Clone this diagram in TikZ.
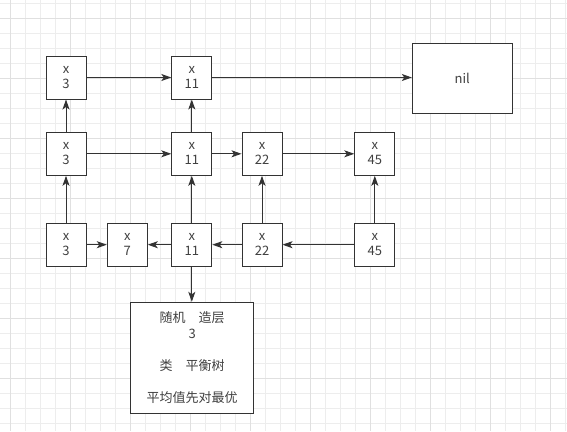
\documentclass[tikz,border=0pt]{standalone}
\usepackage{fontspec}
\setmainfont{Noto Sans CJK SC}
\usetikzlibrary{arrows.meta}
\begin{document}
\begin{tikzpicture}[x=1pt,y=-1pt,
  gridminor/.style={draw=black!7, line width=0.8pt},
  gridmajor/.style={draw=black!12, line width=0.8pt},
  box/.style={draw=black!80, line width=1pt, fill=white, minimum width=40pt, minimum height=43pt, inner sep=0pt, align=center, text=black!75, font=\fontsize{13}{15}\selectfont},
  bigbox/.style={box, font=\fontsize{13}{16}\selectfont},
  arr/.style={draw=black!80, line width=1pt, -{Stealth[length=10pt,width=7pt,inset=2.5pt]}}]
\fill[white] (0,0) rectangle (567,431);
\useasboundingbox (0,0) rectangle (567,431);
\foreach \i in {0,...,37} \draw[gridminor] ({10.7+15*\i},0) -- ({10.7+15*\i},431);
\foreach \j in {0,...,28} \draw[gridminor] (0,{3.3+15*\j}) -- (567,{3.3+15*\j});
\foreach \i in {0,...,9} \draw[gridmajor] ({10.7+60*\i},0) -- ({10.7+60*\i},431);
\foreach \j in {0,...,6} \draw[gridmajor] (0,{18.3+60*\j}) -- (567,{18.3+60*\j});

% top row
\node[box] (t3) at (66,77.5) {x\\3};
\node[box] (t11) at (191.8,77.5) {x\\11};
\node[box, minimum width=100pt, minimum height=70pt] (nil) at (462.3,78.2) {nil};
% middle row
\node[box] (m3) at (66,153.8) {x\\3};
\node[box] (m11) at (191.8,153.8) {x\\11};
\node[box] (m22) at (262,153.8) {x\\22};
\node[box] (m45) at (374.8,153.8) {x\\45};
% bottom row
\node[box] (b3) at (66,244.7) {x\\3};
\node[box] (b7) at (127.3,244.7) {x\\7};
\node[box] (b11) at (191.8,244.7) {x\\11};
\node[box] (b22) at (262,244.7) {x\\22};
\node[box] (b45) at (374.8,244.7) {x\\45};
% info box
\node[bigbox, minimum width=123pt, minimum height=111pt] (info) at (192.2,357.8)
  {随机　造层\\3\\\mbox{}\\类　平衡树\\\mbox{}\\平均值先对最优};

% arrows
\draw[arr] (t3) -- (t11);
\draw[arr] (t11.east) -- (t11.east -| nil.west);
\draw[arr] (m3) -- (t3);
\draw[arr] (m11) -- (t11);
\draw[arr] (m3) -- (m11);
\draw[arr] (m11) -- (m22);
\draw[arr] (m22) -- (m45);
\draw[arr] (b3) -- (m3);
\draw[arr] (b11) -- (m11);
\draw[arr] (b22) -- (m22);
\draw[arr] (b45) -- (m45);
\draw[arr] (b3) -- (b7);
\draw[arr] (b11) -- (b7);
\draw[arr] (b22) -- (b11);
\draw[arr] (b45) -- (b22);
\draw[arr] (b11.south) -- (b11.south |- info.north);
\end{tikzpicture}
\end{document}
